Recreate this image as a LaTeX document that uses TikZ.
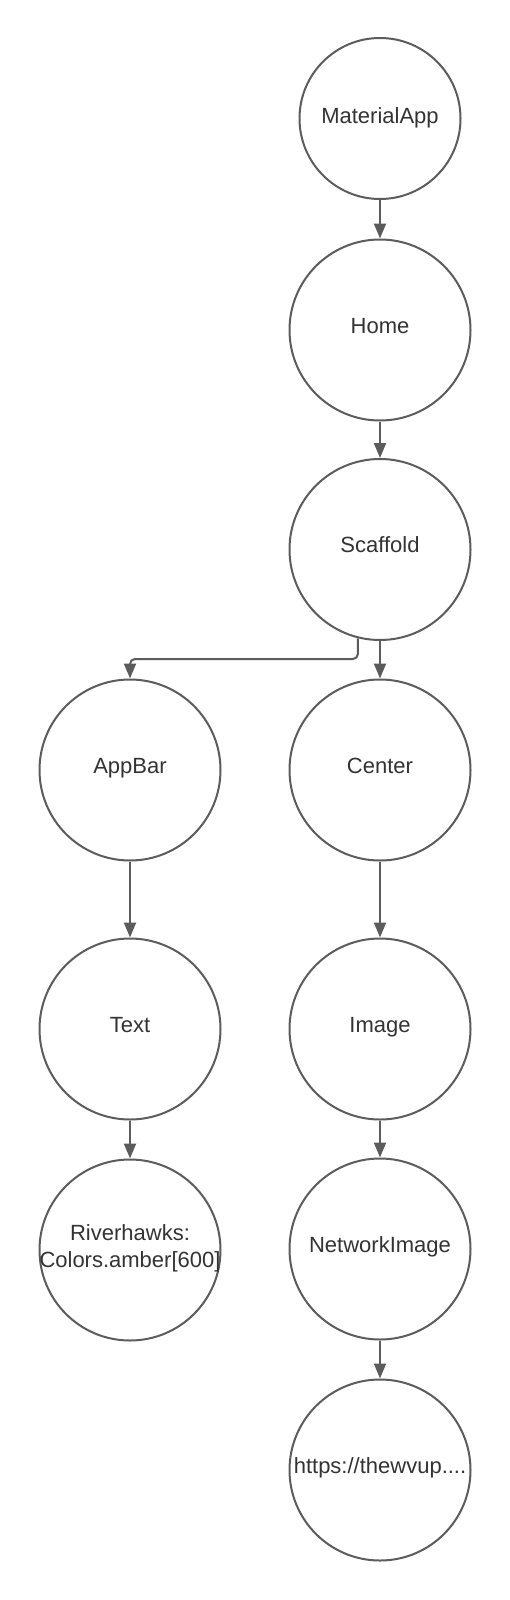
\documentclass[tikz,border=0pt]{standalone}
\usepackage{fontspec}
\setmainfont{Liberation Sans}
\usetikzlibrary{arrows.meta}
\definecolor{linegray}{HTML}{5C5C5C}
\definecolor{textgray}{HTML}{333333}
\tikzset{
  bubble/.style={circle, draw=linegray, line width=2pt, fill=white, inner sep=0pt,
    minimum size=181pt, text=textgray, align=center,
    text height=16pt, text depth=10pt,
    font=\fontsize{22}{27}\selectfont},
  smallbubble/.style={bubble, minimum size=161pt, text depth=6pt},
  twoline/.style={bubble, text height=44pt},
  arr/.style={draw=linegray, line width=2pt, -{Triangle[length=15pt,width=12pt]}}
}
\begin{document}
\begin{tikzpicture}[x=1pt,y=-1pt]
\useasboundingbox (0,0) rectangle (510,1600);
\fill[white] (0,0) rectangle (510,1600);
\node[smallbubble] (ma) at (380,118.5) {MaterialApp};
\node[bubble] (home) at (380,330) {Home};
\node[bubble] (scaf) at (380,549.5) {Scaffold};
\node[bubble] (appbar) at (130,770) {AppBar};
\node[bubble] (center) at (380,770) {Center};
\node[bubble] (text) at (130,1029) {Text};
\node[bubble] (image) at (380,1029) {Image};
\node[twoline] (rh) at (130,1250) {\makebox[0pt]{Riverhawks:}\\\makebox[0pt]{Colors.amber[600]}};
\node[bubble] (net) at (380,1249) {NetworkImage};
\node[bubble] (url) at (380,1470) {\makebox[0pt]{https://thewvup....}};
\coordinate (bend) at (130,659);
\draw[arr] (ma) -- (home);
\draw[arr] (home) -- (scaf);
\draw[arr] (scaf) -- (center);
\draw[arr, rounded corners=5pt] (scaf.256) |- (bend) -- (appbar.north);
\draw[arr] (appbar) -- (text);
\draw[arr] (text) -- (rh);
\draw[arr] (center) -- (image);
\draw[arr] (image) -- (net);
\draw[arr] (net) -- (url);
\end{tikzpicture}
\end{document}
